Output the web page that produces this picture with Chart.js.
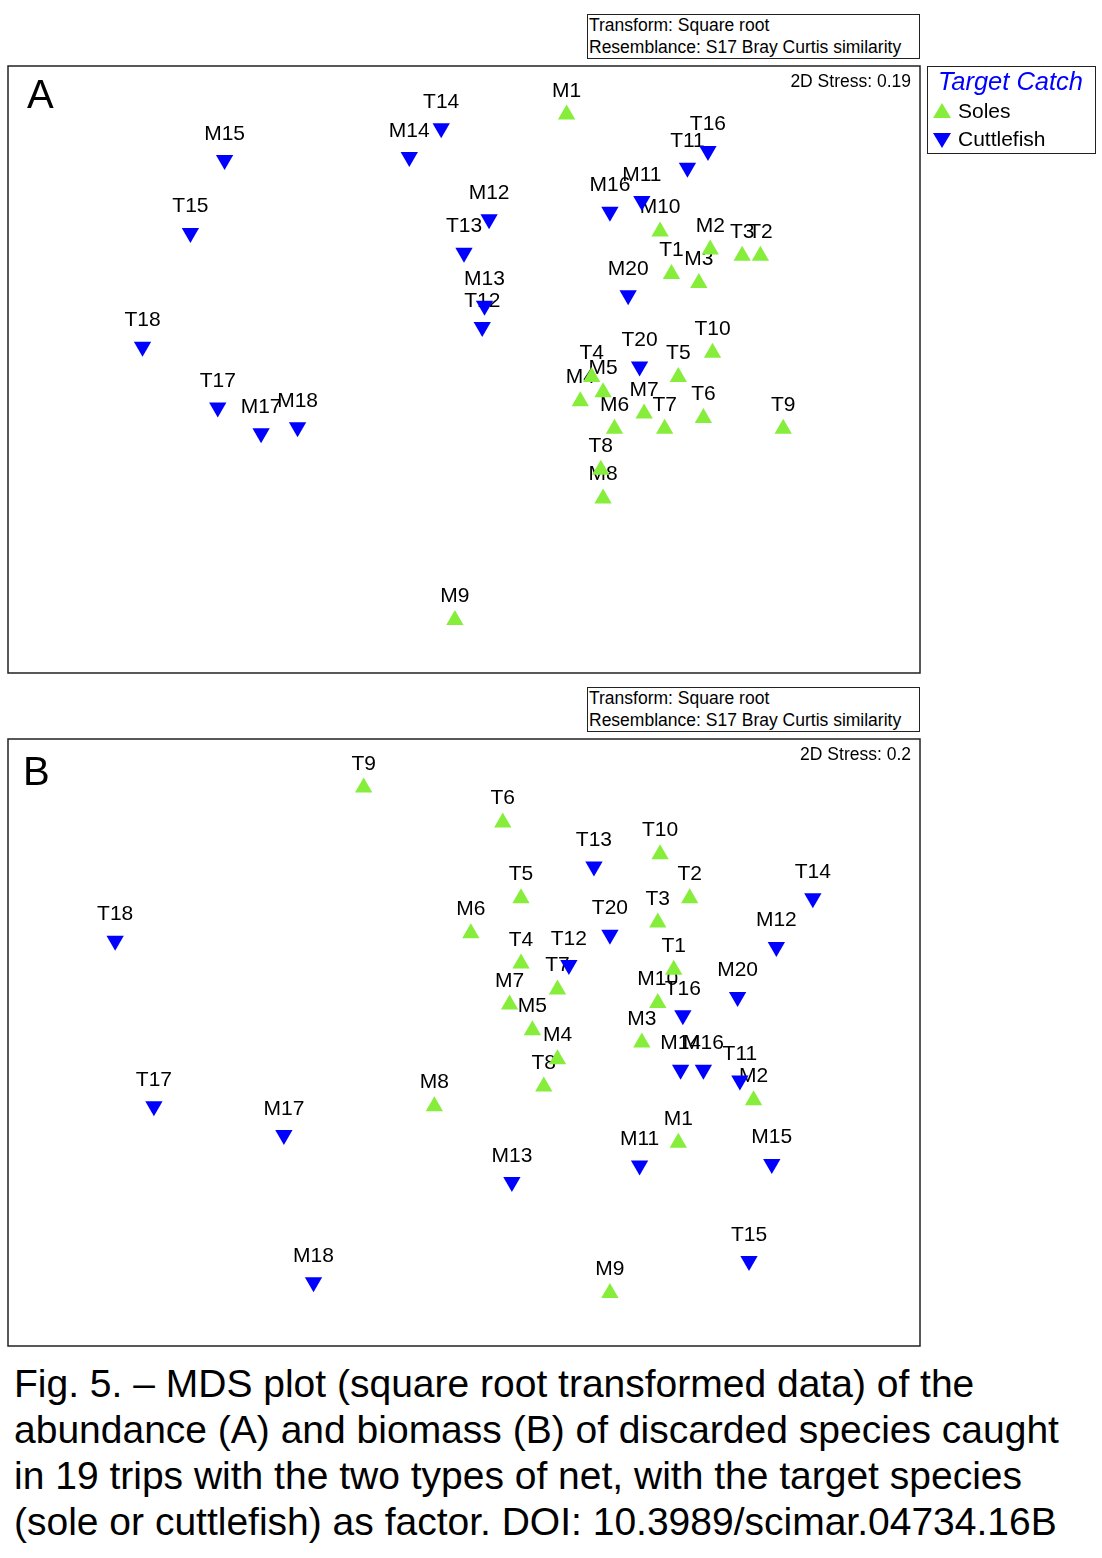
<!DOCTYPE html>
<html>
<head>
<meta charset="utf-8">
<script src="https://cdn.jsdelivr.net/npm/chart.js@4.4.0/dist/chart.umd.min.js"></script>
<style>
  body { margin: 0; background: #fff; font-family: "Liberation Sans", Arial, sans-serif; color: #000; }
  #page { position: relative; width: 1102px; height: 1558px; overflow: hidden; }
  canvas { position: absolute; left: -2px; }
  .tbox { position: absolute; left: 587px; width: 333px; height: 45px; box-sizing: border-box;
          border: 1.5px solid #222; font-size: 17.5px; line-height: 21.5px; padding-left: 1px; white-space: nowrap; }
  .stress { position: absolute; right: 191px; font-size: 17.5px; white-space: nowrap; }
  .panel { position: absolute; font-size: 40px; line-height: 40px; }
  #legend { position: absolute; left: 927px; top: 66px; width: 169px; height: 88px; box-sizing: border-box;
            border: 1.5px solid #222; }
  #legend .title { position: absolute; left: 10px; top: 0px; font-size: 25.5px; font-style: italic; color: #0000ff; white-space: nowrap; }
  #legend .row { position: absolute; left: 30px; font-size: 21px; white-space: nowrap; }
  #legend svg { position: absolute; left: 4px; }
  #caption { position: absolute; left: 14px; top: 1361px; font-size: 39px; line-height: 46px; white-space: nowrap; }
</style>
</head>
<body>
<div id="page">
  <div class="tbox" style="top:14px">Transform: Square root<br>Resemblance: S17 Bray Curtis similarity</div>
  <canvas id="chartA" width="932" height="627" style="top:56px"></canvas>
  <div class="panel" style="left:27px; top:74px">A</div>
  <div class="stress" style="top:71px">2D Stress: 0.19</div>

  <div id="legend">
    <div class="title">Target Catch</div>
    <svg width="20" height="20" style="top:34px"><polygon points="10,2 19,17 1,17" fill="#86ee3a"/></svg>
    <div class="row" style="top:32px">Soles</div>
    <svg width="20" height="20" style="top:63px"><polygon points="1,3 19,3 10,18" fill="#0000ff"/></svg>
    <div class="row" style="top:60px">Cuttlefish</div>
  </div>

  <div class="tbox" style="top:687px">Transform: Square root<br>Resemblance: S17 Bray Curtis similarity</div>
  <canvas id="chartB" width="932" height="627" style="top:729px"></canvas>
  <div class="panel" style="left:23px; top:751px">B</div>
  <div class="stress" style="top:744px">2D Stress: 0.2</div>

  <div id="caption">Fig. 5. – MDS plot (square root transformed data) of the<br>abundance (A) and biomass (B) of discarded species caught<br>in 19 trips with the two types of net, with the target species<br>(sole or cuttlefish) as factor. DOI: 10.3989/scimar.04734.16B</div>
</div>

<script>
// A: abundance
var solesNamesA = ["M1", "M10", "M2", "T3", "T2", "T1", "M3", "T10", "T5", "T4", "M5", "M4", "M7", "M6", "T7", "T6", "T9", "T8", "M8", "M9"];
var solesXA = [0.45, 0.86, 1.08, 1.22, 1.30, 0.91, 1.03, 1.09, 0.94, 0.56, 0.61, 0.51, 0.79, 0.66, 0.88, 1.05, 1.40, 0.60, 0.61, -0.04];
var solesYA = [1.68, 0.91, 0.79, 0.75, 0.75, 0.63, 0.57, 0.11, -0.05, -0.05, -0.15, -0.21, -0.29, -0.39, -0.39, -0.32, -0.39, -0.66, -0.85, -1.65];

var cuttleNamesA = ["M15", "T15", "T18", "T17", "M17", "M18", "M14", "T14", "M12", "T13", "M13", "T12", "M16", "M11", "T11", "T16", "M20", "T20"];
var cuttleXA = [-1.05, -1.20, -1.41, -1.08, -0.89, -0.73, -0.24, -0.10, 0.11, 0.00, 0.09, 0.08, 0.64, 0.78, 0.98, 1.07, 0.72, 0.77];
var cuttleYA = [1.38, 0.90, 0.15, -0.25, -0.42, -0.38, 1.40, 1.59, 0.99, 0.77, 0.42, 0.28, 1.04, 1.11, 1.33, 1.44, 0.49, 0.02];

// B: biomass
var solesNamesB = ["T9", "T6", "T10", "T5", "T2", "T3", "M6", "T4", "T1", "T7", "M7", "M10", "M5", "M4", "T8", "M3", "M2", "M1", "M8", "M9"];
var solesXB = [-0.44, 0.17, 0.86, 0.25, 0.99, 0.85, 0.03, 0.25, 0.92, 0.41, 0.20, 0.85, 0.30, 0.41, 0.35, 0.78, 1.27, 0.94, -0.13, 0.64];
var solesYB = [1.68, 1.45, 1.24, 0.95, 0.95, 0.79, 0.72, 0.52, 0.48, 0.35, 0.25, 0.26, 0.08, -0.11, -0.29, 0.00, -0.38, -0.66, -0.42, -1.65];

var cuttleNamesB = ["T13", "T14", "T18", "M12", "T20", "T12", "M20", "T16", "M14", "M16", "T11", "T17", "M17", "M11", "M15", "M13", "T15", "M18"];
var cuttleXB = [0.57, 1.53, -1.53, 1.37, 0.64, 0.46, 1.20, 0.96, 0.95, 1.05, 1.21, -1.36, -0.79, 0.77, 1.35, 0.21, 1.25, -0.66];
var cuttleYB = [1.16, 0.95, 0.67, 0.63, 0.71, 0.51, 0.30, 0.18, -0.18, -0.18, -0.25, -0.42, -0.61, -0.81, -0.80, -0.92, -1.44, -1.58];

var green = "#86ee3a";
var blue = "#0000ff";

function toPoints(names, xs, ys) {
  return names.map(function (n, i) { return { x: xs[i], y: ys[i], name: n }; });
}

// sample names above each marker, drawn under the markers
var pointLabels = {
  id: "pointLabels",
  beforeDatasetsDraw: function (chart) {
    var ctx = chart.ctx;
    ctx.save();
    ctx.font = '21px "Liberation Sans", Arial, sans-serif';
    ctx.fillStyle = "#000";
    ctx.textAlign = "center";
    ctx.textBaseline = "alphabetic";
    chart.data.datasets.forEach(function (ds, i) {
      var gap = ds.rotation ? 20.5 : 18;
      chart.getDatasetMeta(i).data.forEach(function (pt, j) {
        ctx.fillText(ds.data[j].name, pt.x, pt.y - gap);
      });
    });
    ctx.restore();
  }
};

// frame round the plot area
var frame = {
  id: "frame",
  afterDraw: function (chart) {
    var a = chart.chartArea;
    var ctx = chart.ctx;
    ctx.save();
    ctx.strokeStyle = "#222";
    ctx.lineWidth = 1.5;
    ctx.strokeRect(a.left, a.top, a.right - a.left, a.bottom - a.top);
    ctx.restore();
  }
};

function makeChart(id, soles, cuttle) {
  return new Chart(document.getElementById(id), {
    type: "scatter",
    data: {
      datasets: [
        {
          label: "Soles",
          data: soles,
          pointStyle: "triangle",
          pointRadius: 10,
          backgroundColor: green,
          borderColor: green,
          borderWidth: 0,
        },
        {
          label: "Cuttlefish",
          data: cuttle,
          pointStyle: "triangle",
          rotation: 180,
          pointRadius: 10,
          backgroundColor: blue,
          borderColor: blue,
          borderWidth: 0,
        },
      ],
    },
    options: {
      responsive: false,
      animation: false,
      events: [],
      layout: { padding: { left: 10, top: 10, right: 10, bottom: 10 } },
      plugins: { legend: { display: false }, tooltip: { enabled: false } },
      scales: {
        x: { min: -2, max: 2, display: false },
        y: { min: -2, max: 2, display: false },
      },
    },
    plugins: [pointLabels, frame],
  });
}

var chartA = makeChart("chartA", toPoints(solesNamesA, solesXA, solesYA), toPoints(cuttleNamesA, cuttleXA, cuttleYA));
var chartB = makeChart("chartB", toPoints(solesNamesB, solesXB, solesYB), toPoints(cuttleNamesB, cuttleXB, cuttleYB));
</script>
</body>
</html>
